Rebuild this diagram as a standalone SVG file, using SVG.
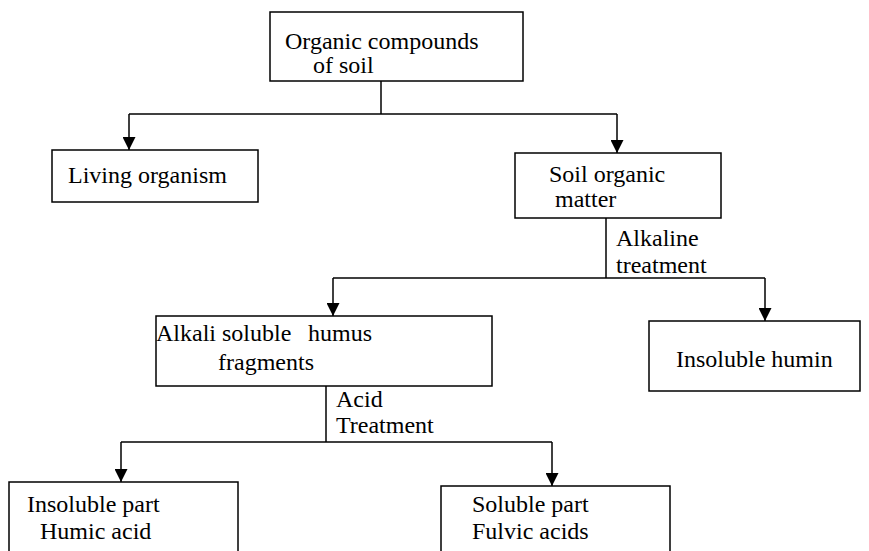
<svg xmlns="http://www.w3.org/2000/svg" width="869" height="551" viewBox="0 0 869 551">
<style>
  .box{fill:#fff;stroke:#000;stroke-width:1.5}
  .t{font-family:"Liberation Serif","Times New Roman",serif;font-size:24px;fill:#000}
  .c{fill:none;stroke:#000;stroke-width:1.5}
</style>
<defs>
  <marker id="ah" markerUnits="userSpaceOnUse" markerWidth="13" markerHeight="13" viewBox="0 0 13 13" refX="13" refY="6.5" orient="auto">
    <path d="M0,0 L13,6.5 L0,13 Z" fill="#000"/>
  </marker>
</defs>
<rect width="869" height="551" fill="#fff"/>
<g id="connectors">
  <path class="c" d="M381,81 V114"/>
  <path class="c" d="M129,114 H617"/>
  <path class="c" d="M129,114 V150" marker-end="url(#ah)"/>
  <path class="c" d="M617,114 V153" marker-end="url(#ah)"/>
  <path class="c" d="M606,218 V278"/>
  <path class="c" d="M333,278 H765"/>
  <path class="c" d="M333,278 V316" marker-end="url(#ah)"/>
  <path class="c" d="M765,278 V321" marker-end="url(#ah)"/>
  <path class="c" d="M326,386 V442"/>
  <path class="c" d="M121,442 H552"/>
  <path class="c" d="M121,442 V482" marker-end="url(#ah)"/>
  <path class="c" d="M552,442 V486" marker-end="url(#ah)"/>
  <text class="t" x="616" y="246">Alkaline</text>
  <text class="t" x="616" y="273">treatment</text>
  <text class="t" x="336" y="407">Acid</text>
  <text class="t" x="336" y="433">Treatment</text>
</g>
<g id="organic-compounds">
  <rect class="box" x="270" y="12" width="253" height="69"/>
  <text class="t" x="285" y="49">Organic compounds</text>
  <text class="t" x="313" y="73">of soil</text>
</g>
<g id="living-organism">
  <rect class="box" x="52" y="150" width="206" height="52"/>
  <text class="t" x="68" y="183">Living organism</text>
</g>
<g id="soil-organic-matter">
  <rect class="box" x="515" y="153" width="206" height="65"/>
  <text class="t" x="549" y="182">Soil organic</text>
  <text class="t" x="555" y="207">matter</text>
</g>
<g id="alkali-soluble">
  <rect class="box" x="156" y="316" width="336" height="70"/>
  <text class="t" x="156" y="341">Alkali soluble<tspan x="308">humus</tspan></text>
  <text class="t" x="218" y="370">fragments</text>
</g>
<g id="insoluble-humin">
  <rect class="box" x="649" y="321" width="211" height="70"/>
  <text class="t" x="676" y="367">Insoluble humin</text>
</g>
<g id="humic-acid">
  <rect class="box" x="9" y="482" width="229" height="80"/>
  <text class="t" x="27" y="512">Insoluble part</text>
  <text class="t" x="40" y="539">Humic acid</text>
</g>
<g id="fulvic-acids">
  <rect class="box" x="441" y="486" width="229" height="80"/>
  <text class="t" x="472" y="512">Soluble part</text>
  <text class="t" x="472" y="539">Fulvic acids</text>
</g>
</svg>
